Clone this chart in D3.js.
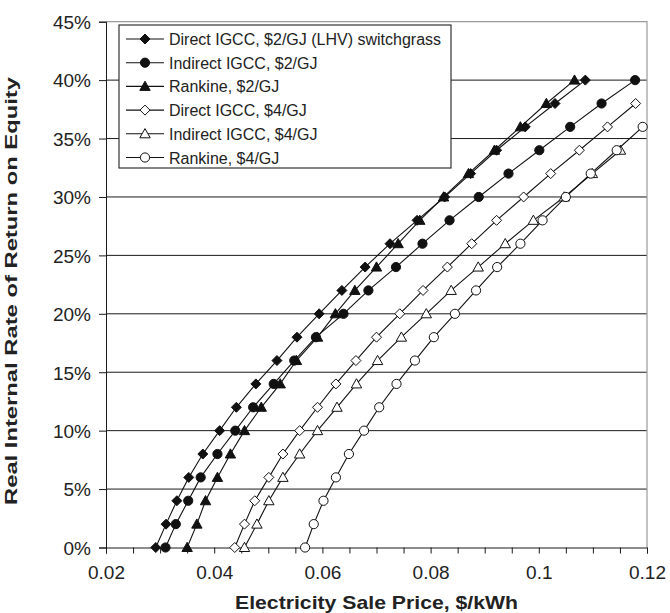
<!DOCTYPE html>
<html>
<head>
<meta charset="utf-8">
<script src="https://cdn.jsdelivr.net/npm/d3@7"></script>
<style>
  body { margin: 0; background: #fff; }
  svg { display: block; font-family: 'Liberation Sans', Arial, sans-serif; }
</style>
</head>
<body>
<div id="chart"></div>
<script>
// IRR levels (%) and sale prices ($/kWh)
const irrTo40 = [0, 2, 4, 6, 8, 10, 12, 14, 16, 18, 20, 22, 24, 26, 28, 30, 32, 34, 36, 38, 40]
const irrTo38 = [0, 2, 4, 6, 8, 10, 12, 14, 16, 18, 20, 22, 24, 26, 28, 30, 32, 34, 36, 38]
const irrTo36 = [0, 2, 4, 6, 8, 10, 12, 14, 16, 18, 20, 22, 24, 26, 28, 30, 32, 34, 36]
const irrTo34 = [0, 2, 4, 6, 8, 10, 12, 14, 16, 18, 20, 22, 24, 26, 28, 30, 32, 34]

const directIGCC2 = [0.0292, 0.0311, 0.0331, 0.0353, 0.0379, 0.0410, 0.0441, 0.0477, 0.0516, 0.0553, 0.0594,
                     0.0636, 0.0679, 0.0725, 0.0775, 0.0826, 0.0874, 0.0922, 0.0975, 0.1030, 0.1086]
const indirectIGCC2 = [0.0310, 0.0329, 0.0352, 0.0375, 0.0406, 0.0439, 0.0472, 0.0510, 0.0548, 0.0588, 0.0639,
                       0.0685, 0.0736, 0.0785, 0.0835, 0.0889, 0.0944, 0.1001, 0.1058, 0.1116, 0.1178]
const rankine2 = [0.0350, 0.0368, 0.0384, 0.0406, 0.0430, 0.0456, 0.0487, 0.0522, 0.0552, 0.0591, 0.0624,
                  0.0660, 0.0700, 0.0740, 0.0780, 0.0824, 0.0870, 0.0918, 0.0966, 0.1014, 0.1066]
const directIGCC4 = [0.0438, 0.0456, 0.0475, 0.0501, 0.0527, 0.0558, 0.0591, 0.0625, 0.0662, 0.0700,
                     0.0743, 0.0786, 0.0831, 0.0876, 0.0922, 0.0972, 0.1022, 0.1075, 0.1127, 0.1179]
const indirectIGCC4 = [0.0456, 0.0479, 0.0501, 0.0527, 0.0558, 0.0591, 0.0627, 0.0663, 0.0702,
                       0.0746, 0.0792, 0.0838, 0.0888, 0.0938, 0.0990, 0.1047, 0.1099, 0.1151]
const rankine4 = [0.0568, 0.0584, 0.0602, 0.0625, 0.0649, 0.0677, 0.0705, 0.0737, 0.0771, 0.0806,
                  0.0845, 0.0884, 0.0923, 0.0966, 0.1007, 0.1050, 0.1096, 0.1144, 0.1192]

const seriesNames = ['Direct IGCC, $2/GJ (LHV) switchgrass', 'Indirect IGCC, $2/GJ', 'Rankine, $2/GJ',
                     'Direct IGCC, $4/GJ', 'Indirect IGCC, $4/GJ', 'Rankine, $4/GJ']
const xTicks = [0.02, 0.04, 0.06, 0.08, 0.1, 0.12]
const yTicks = [0, 5, 10, 15, 20, 25, 30, 35, 40, 45]

const series = [
    { name: seriesNames[0], x: directIGCC2, y: irrTo40, shape: 'diamond', filled: true },
    { name: seriesNames[1], x: indirectIGCC2, y: irrTo40, shape: 'circle', filled: true },
    { name: seriesNames[2], x: rankine2, y: irrTo40, shape: 'triangle', filled: true },
    { name: seriesNames[3], x: directIGCC4, y: irrTo38, shape: 'diamond', filled: false },
    { name: seriesNames[4], x: indirectIGCC4, y: irrTo34, shape: 'triangle', filled: false },
    { name: seriesNames[5], x: rankine4, y: irrTo36, shape: 'circle', filled: false }
]

const W = 670, H = 613
const plotL = 106, plotR = 647, plotT = 21.7, plotB = 547.5

const x = d3.scaleLinear().domain([0.02, 0.12]).range([plotL, plotR])
const y = d3.scaleLinear().domain([0, 45]).range([plotB, plotT])

const svg = d3.select('#chart').append('svg').attr('width', W).attr('height', H)

// grid lines
svg.append('g').selectAll('line')
    .data(yTicks.slice(1, -1))
    .enter().append('line')
        .attr('x1', plotL).attr('x2', plotR)
        .attr('y1', d => y(d)).attr('y2', d => y(d))
        .attr('stroke', '#1a1a1a').attr('stroke-width', 1)

// grey frame top / right
svg.append('path')
    .attr('d', `M${plotL},${plotT}H${plotR}V${plotB}`)
    .attr('fill', 'none').attr('stroke', '#9a9a9a').attr('stroke-width', 1.2)

// y axis
const yAxis = svg.append('g')
    .attr('transform', `translate(${plotL},0)`)
    .call(d3.axisLeft(y).tickValues(yTicks).tickSize(7).tickFormat(d => d + '%'))
yAxis.select('.domain').attr('stroke', '#1a1a1a')
yAxis.selectAll('.tick line').attr('stroke', '#1a1a1a')
yAxis.selectAll('.tick text')
    .attr('x', -15).attr('dy', '0.36em')
    .attr('font-size', 19).attr('fill', '#222')
    .attr('font-family', "'Liberation Sans', Arial, sans-serif")

// x axis with minor ticks every 0.005
const xAxis = svg.append('g')
    .attr('transform', `translate(0,${plotB})`)
    .call(d3.axisBottom(x).ticks(20).tickSize(6).tickFormat(d => xTicks.some(t => Math.abs(t - d) < 1e-9) ? d3.format('')(+d.toFixed(2)) : ''))
xAxis.select('.domain').attr('stroke', '#1a1a1a')
xAxis.selectAll('.tick line').attr('stroke', '#1a1a1a')
xAxis.selectAll('.tick text')
    .attr('y', 18).attr('dy', '0.71em')
    .attr('font-size', 19).attr('fill', '#222')
    .attr('font-family', "'Liberation Sans', Arial, sans-serif")

// marker shapes
const shapePath = (shape) => {
    if (shape === 'diamond') return 'M0,-5L5,0L0,5L-5,0Z'
    if (shape === 'triangle') return 'M0,-5.2L5.2,4L-5.2,4Z'
    return d3.symbol().type(d3.symbolCircle).size(Math.PI * 4.6 * 4.6)()
}

const line = d3.line().x(d => x(d[0])).y(d => y(d[1]))

series.forEach(s => {
    const pts = s.x.map((v, i) => [v, s.y[i]])
    svg.append('path')
        .datum(pts)
        .attr('d', line)
        .attr('fill', 'none').attr('stroke', '#111').attr('stroke-width', 1.1)
    svg.append('g').selectAll('path')
        .data(pts)
        .enter().append('path')
            .attr('transform', d => `translate(${x(d[0])},${y(d[1])})`)
            .attr('d', shapePath(s.shape))
            .attr('fill', s.filled ? '#111' : '#fff')
            .attr('stroke', '#111').attr('stroke-width', 1)
})

// legend
const legend = svg.append('g')
legend.append('rect')
    .attr('x', 119).attr('y', 25).attr('width', 332).attr('height', 143)
    .attr('fill', '#fff').attr('stroke', '#333').attr('stroke-width', 1.2)

const rows = legend.selectAll('g.row')
    .data(series)
    .enter().append('g')
        .attr('class', 'row')
        .attr('transform', (d, i) => `translate(0,${39 + i * 23.7})`)
rows.append('line')
    .attr('x1', 126).attr('x2', 164).attr('y1', 0).attr('y2', 0)
    .attr('stroke', '#111').attr('stroke-width', 1.1)
rows.append('path')
    .attr('transform', 'translate(145,0)')
    .attr('d', d => shapePath(d.shape))
    .attr('fill', d => d.filled ? '#111' : '#fff')
    .attr('stroke', '#111')
rows.append('text')
    .attr('x', 169).attr('y', 6)
    .attr('font-size', 16).attr('fill', '#222')
    .text(d => d.name)

// axis titles
svg.append('text')
    .attr('x', (plotL + plotR) / 2).attr('y', 609)
    .attr('text-anchor', 'middle')
    .attr('font-size', 19).attr('font-weight', 'bold').attr('fill', '#222')
    .attr('textLength', 283).attr('lengthAdjust', 'spacingAndGlyphs')
    .text('Electricity Sale Price, $/kWh')

svg.append('text')
    .attr('transform', `translate(17,291) rotate(-90)`)
    .attr('text-anchor', 'middle')
    .attr('font-size', 17).attr('font-weight', 'bold').attr('fill', '#222')
    .attr('textLength', 428).attr('lengthAdjust', 'spacingAndGlyphs')
    .text('Real Internal Rate of Return on Equity')
</script>
</body>
</html>
